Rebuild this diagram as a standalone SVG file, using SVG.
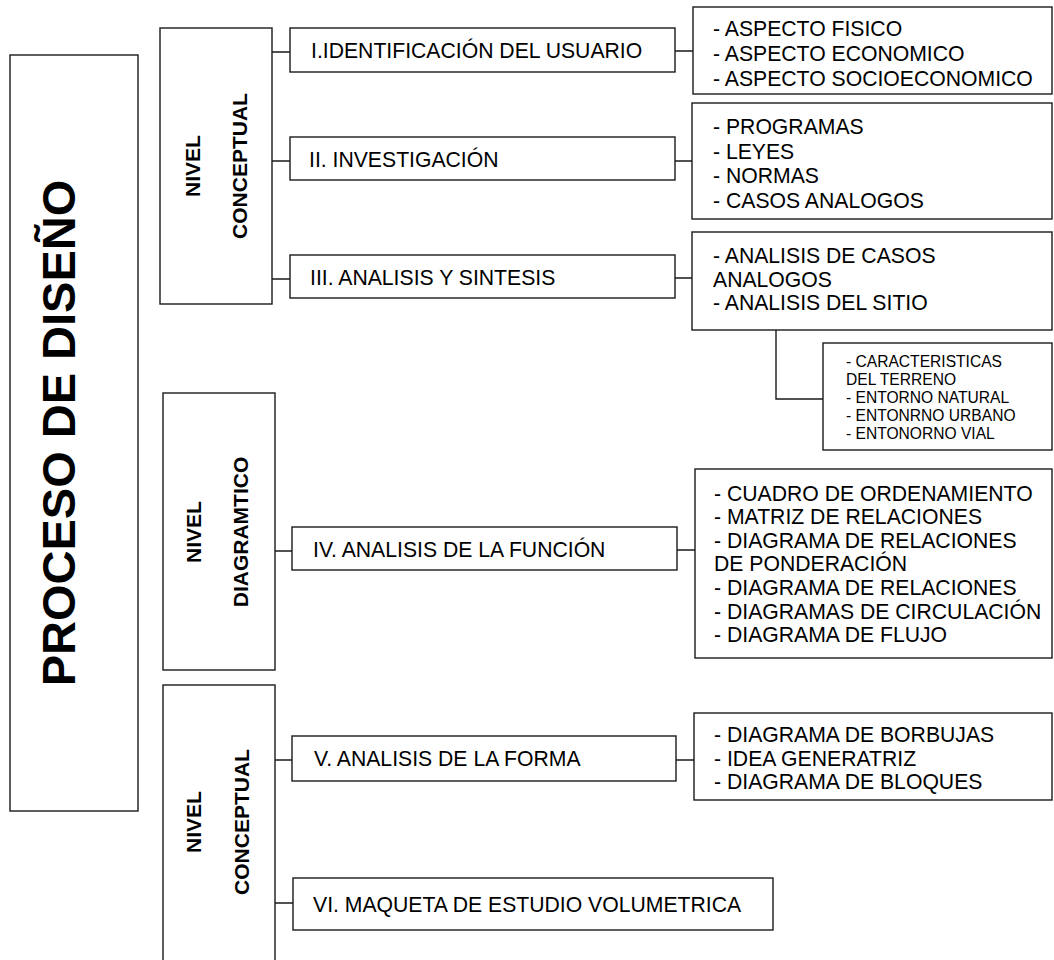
<svg xmlns="http://www.w3.org/2000/svg" width="1054" height="960" viewBox="0 0 1054 960">
<style>
.box{fill:#fff;stroke:#1a1a1a;stroke-width:1.4}
.ln{fill:none;stroke:#1a1a1a;stroke-width:1.4}
.t{font-family:"Liberation Sans",Arial,sans-serif;font-size:21.2px;fill:#000}
.ts{font-family:"Liberation Sans",Arial,sans-serif;font-size:15.6px;fill:#000}
.b{font-family:"Liberation Sans",Arial,sans-serif;font-size:21px;font-weight:bold;fill:#000;text-anchor:middle}
.title{font-family:"Liberation Sans",Arial,sans-serif;font-size:47px;font-weight:bold;fill:#000;text-anchor:middle}
</style>
<rect width="1054" height="960" fill="#fff"/>
<g id="connectors">
<path class="ln" d="M272 52H290M272 161H290M272 279H290"/>
<path class="ln" d="M675 51H693M675 161H692M675 278H692"/>
<path class="ln" d="M776 330V399H823"/>
<path class="ln" d="M275 551H292M677 550H695"/>
<path class="ln" d="M275 760H292M676 760H694M275 903H293"/>
</g>
<g id="proceso">
<rect class="box" x="10" y="55" width="128" height="756"/>
<text class="title" transform="translate(75,433) rotate(-90)">PROCESO DE DISEÑO</text>
</g>
<g id="nivel-conceptual-1">
<rect class="box" x="160" y="28" width="112" height="276"/>
<text class="b" transform="translate(200,166) rotate(-90)">NIVEL</text>
<text class="b" transform="translate(247,166) rotate(-90)">CONCEPTUAL</text>
</g>
<g id="nivel-diagramatico">
<rect class="box" x="163" y="393" width="112" height="277"/>
<text class="b" transform="translate(201,532) rotate(-90)">NIVEL</text>
<text class="b" transform="translate(248,532) rotate(-90)">DIAGRAMTICO</text>
</g>
<g id="nivel-conceptual-2">
<rect class="box" x="163" y="685" width="112" height="285"/>
<text class="b" transform="translate(201,822) rotate(-90)">NIVEL</text>
<text class="b" transform="translate(249,822) rotate(-90)">CONCEPTUAL</text>
</g>
<g id="n1">
<rect class="box" x="290" y="28" width="385" height="44"/>
<text class="t" x="311" y="58">I.IDENTIFICACIÓN DEL USUARIO</text>
</g>
<g id="n2">
<rect class="box" x="290" y="137" width="385" height="43"/>
<text class="t" x="309" y="166.5">II. INVESTIGACIÓN</text>
</g>
<g id="n3">
<rect class="box" x="290" y="255" width="385" height="43"/>
<text class="t" x="310" y="284.5">III. ANALISIS Y SINTESIS</text>
</g>
<g id="l1">
<rect class="box" x="693" y="7" width="359" height="87"/>
<text class="t" x="713" y="35.5">- ASPECTO FISICO</text>
<text class="t" x="713" y="60.5">- ASPECTO ECONOMICO</text>
<text class="t" x="713" y="85.5">- ASPECTO SOCIOECONOMICO</text>
</g>
<g id="l2">
<rect class="box" x="692" y="103" width="360" height="116"/>
<text class="t" x="713" y="134">- PROGRAMAS</text>
<text class="t" x="713" y="158.5">- LEYES</text>
<text class="t" x="713" y="183">- NORMAS</text>
<text class="t" x="713" y="207.5">- CASOS ANALOGOS</text>
</g>
<g id="l3">
<rect class="box" x="692" y="232" width="360" height="98"/>
<text class="t" x="713" y="263">- ANALISIS DE CASOS</text>
<text class="t" x="713" y="287">ANALOGOS</text>
<text class="t" x="713" y="310">- ANALISIS DEL SITIO</text>
</g>
<g id="l3sub">
<rect class="box" x="823" y="343" width="229" height="107"/>
<text class="ts" x="846" y="367">- CARACTERISTICAS</text>
<text class="ts" x="846" y="385">DEL TERRENO</text>
<text class="ts" x="846" y="403">- ENTORNO NATURAL</text>
<text class="ts" x="846" y="421">- ENTONRNO URBANO</text>
<text class="ts" x="846" y="439">- ENTONORNO VIAL</text>
</g>
<g id="n4">
<rect class="box" x="292" y="527" width="385" height="43"/>
<text class="t" x="313" y="556.5">IV. ANALISIS DE LA FUNCIÓN</text>
</g>
<g id="l4">
<rect class="box" x="695" y="469" width="357" height="189"/>
<text class="t" x="714" y="500.5">- CUADRO DE ORDENAMIENTO</text>
<text class="t" x="714" y="524">- MATRIZ DE RELACIONES</text>
<text class="t" x="714" y="547.5">- DIAGRAMA DE RELACIONES</text>
<text class="t" x="714" y="571">DE PONDERACIÓN</text>
<text class="t" x="714" y="595">- DIAGRAMA DE RELACIONES</text>
<text class="t" x="714" y="618.5">- DIAGRAMAS DE CIRCULACIÓN</text>
<text class="t" x="714" y="642">- DIAGRAMA DE FLUJO</text>
</g>
<g id="n5">
<rect class="box" x="292" y="736" width="384" height="45"/>
<text class="t" x="314" y="766">V. ANALISIS DE LA FORMA</text>
</g>
<g id="l5">
<rect class="box" x="694" y="713" width="358" height="87"/>
<text class="t" x="714" y="742">- DIAGRAMA DE BORBUJAS</text>
<text class="t" x="714" y="765.5">- IDEA GENERATRIZ</text>
<text class="t" x="714" y="789">- DIAGRAMA DE BLOQUES</text>
</g>
<g id="n6">
<rect class="box" x="293" y="878" width="480" height="52"/>
<text class="t" x="313" y="911.5">VI. MAQUETA DE ESTUDIO VOLUMETRICA</text>
</g>
</svg>
